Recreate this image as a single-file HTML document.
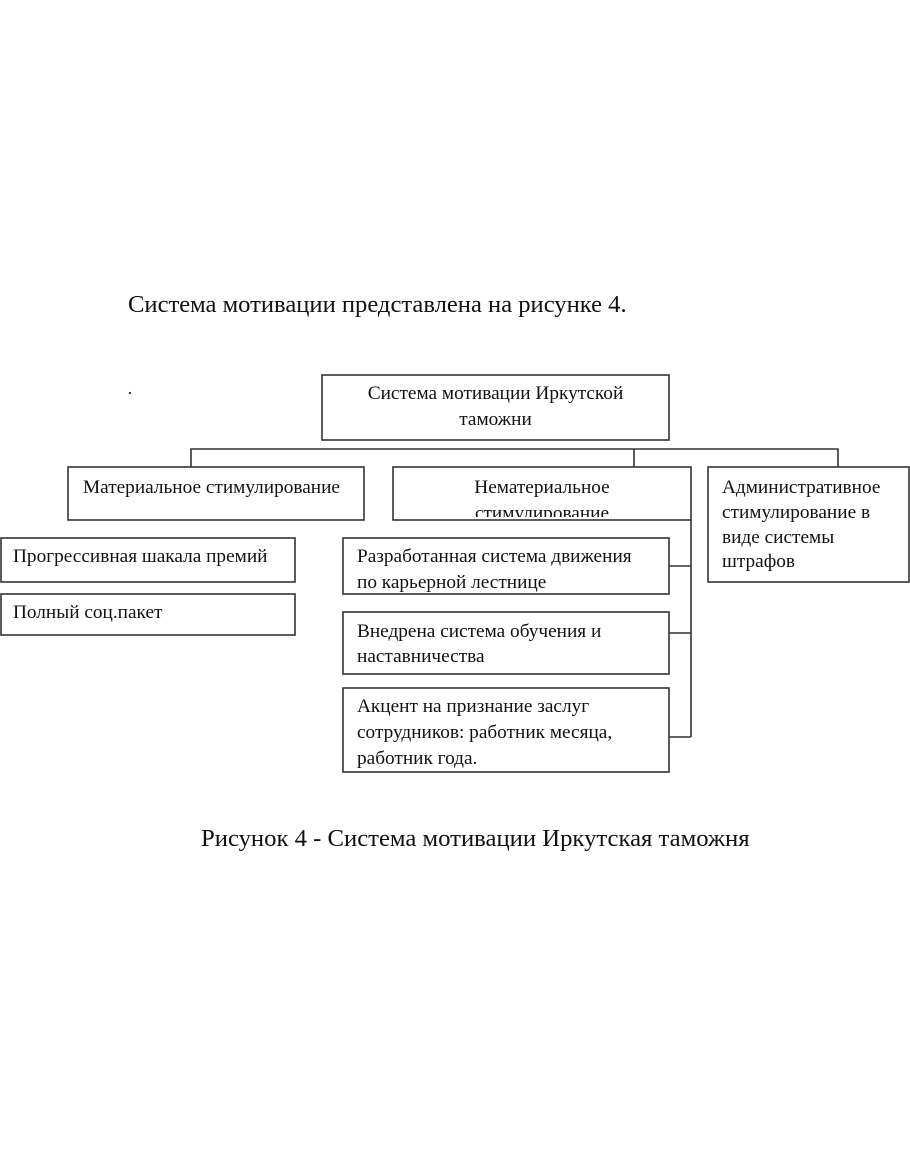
<!DOCTYPE html>
<html>
<head>
<meta charset="utf-8">
<style>
html,body{margin:0;padding:0;background:#fff;}
svg{display:block;}
text{font-family:"Liberation Serif","DejaVu Serif",serif;fill:#111;}
</style>
</head>
<body>
<svg width="910" height="1155" viewBox="0 0 910 1155" xmlns="http://www.w3.org/2000/svg">
<defs>
<clipPath id="cN"><rect x="393" y="467" width="298" height="50"/></clipPath>
<clipPath id="cR"><rect x="343" y="538" width="326" height="54"/></clipPath>
<clipPath id="cA"><rect x="343" y="688" width="326" height="82"/></clipPath>
</defs>

<text x="128" y="312" font-size="24.6">Система мотивации представлена на рисунке 4.</text>

<circle cx="130" cy="393" r="1.1" fill="#222"/>

<g fill="none" stroke="#333" stroke-width="1.6">
<rect x="322" y="375" width="347" height="65"/>
<polyline points="191,467 191,449 838,449 838,467"/>
<line x1="634" y1="449" x2="634" y2="467"/>
<rect x="68" y="467" width="296" height="53"/>
<rect x="393" y="467" width="298" height="53"/>
<line x1="691" y1="520" x2="691" y2="737"/>
<rect x="708" y="467" width="201" height="115"/>
<rect x="1" y="538" width="294" height="44"/>
<rect x="1" y="594" width="294" height="41"/>
<rect x="343" y="538" width="326" height="56"/>
<rect x="343" y="612" width="326" height="62"/>
<rect x="343" y="688" width="326" height="84"/>
<line x1="669" y1="566" x2="691" y2="566"/>
<line x1="669" y1="633" x2="691" y2="633"/>
<line x1="669" y1="737" x2="691" y2="737"/>
</g>

<g font-size="19.3">
<text x="495.5" y="399" text-anchor="middle">Система мотивации Иркутской</text>
<text x="495.5" y="425" text-anchor="middle">таможни</text>

<text x="83" y="493">Материальное стимулирование</text>

<g clip-path="url(#cN)">
<text x="542" y="493" text-anchor="middle">Нематериальное</text>
<text x="542" y="519" text-anchor="middle">стимулирование</text>
</g>

<text x="722" y="493">Административное</text>
<text x="722" y="518">стимулирование в</text>
<text x="722" y="543">виде системы</text>
<text x="722" y="567">штрафов</text>

<text x="13" y="562">Прогрессивная шакала премий</text>
<text x="13" y="618">Полный соц.пакет</text>

<g clip-path="url(#cR)">
<text x="357" y="562">Разработанная система движения</text>
<text x="357" y="588">по карьерной лестнице</text>
</g>

<text x="357" y="637">Внедрена система обучения и</text>
<text x="357" y="662">наставничества</text>

<g clip-path="url(#cA)">
<text x="357" y="712">Акцент на признание заслуг</text>
<text x="357" y="738">сотрудников: работник месяца,</text>
<text x="357" y="764">работник года.</text>
</g>
</g>

<text x="201" y="846" font-size="24.7">Рисунок 4 - Система мотивации Иркутская таможня</text>
</svg>
</body>
</html>
